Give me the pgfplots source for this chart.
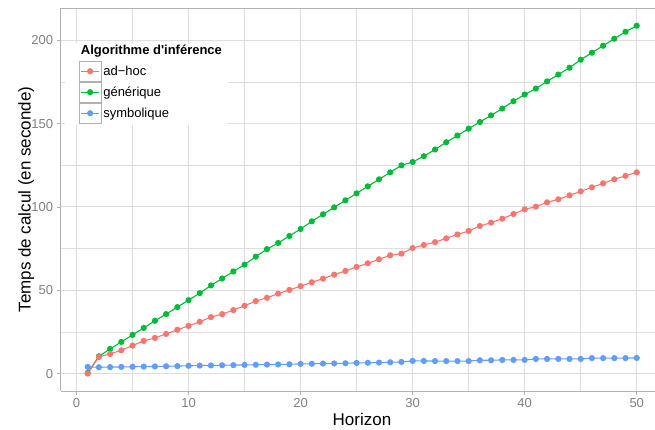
\documentclass[border=0pt]{standalone}
\usepackage{pgfplots}
\pgfplotsset{compat=1.18}
\usepackage{pgfplotstable}
\usepackage{fontspec}
\setmainfont{Liberation Sans}[Ligatures=TeXOff]
\definecolor{cred}{HTML}{F8766D}
\definecolor{cgreen}{HTML}{00BA38}
\definecolor{cblue}{HTML}{619CFF}
\definecolor{axisgray}{HTML}{B3B3B3}
\definecolor{gridgray}{HTML}{DEDEDE}
\definecolor{boxgray}{HTML}{B0B0B0}
\definecolor{ticklab}{HTML}{7F7F7F}

\pgfplotstableread{
x y
1 0
2 10.0
3 11.8
4 14.0
5 16.8
6 19.6
7 21.4
8 23.8
9 26.3
10 28.6
11 31.1
12 33.9
13 35.7
14 38.1
15 40.7
16 43.5
17 45.5
18 48.0
19 50.2
20 52.5
21 54.8
22 57.0
23 59.4
24 61.6
25 64.0
26 66.2
27 68.6
28 71.0
29 72.0
30 75.4
31 77.2
32 78.9
33 81.2
34 83.5
35 85.6
36 88.6
37 90.6
38 93.0
39 95.8
40 98.6
41 100.2
42 102.8
43 104.6
44 107.0
45 109.4
46 111.8
47 114.2
48 116.6
49 118.7
50 120.8
}\adhoc

\pgfplotstableread{
x y
1 0.4
2 10.4
3 14.8
4 19.0
5 23.2
6 27.4
7 31.7
8 35.7
9 39.9
10 44.1
11 48.3
12 52.9
13 57.1
14 61.3
15 65.4
16 70.2
17 74.7
18 78.4
19 82.6
20 86.8
21 91.4
22 95.6
23 99.8
24 104.0
25 108.2
26 112.4
27 116.6
28 120.8
29 125.0
30 127.0
31 130.5
32 134.5
33 138.9
34 142.9
35 147.0
36 151.0
37 155.0
38 159.1
39 163.5
40 167.5
41 171.1
42 175.4
43 179.5
44 183.6
45 188.4
46 192.6
47 196.8
48 201.0
49 205.2
50 208.8
}\generique

\pgfplotstableread{
x y
1 4.0
2 3.8
3 3.9
4 4.0
5 4.1
6 4.2
7 4.3
8 4.4
9 4.5
10 4.7
11 4.8
12 4.9
13 5.0
14 5.1
15 5.2
16 5.3
17 5.4
18 5.5
19 5.6
20 5.8
21 5.9
22 6.0
23 6.1
24 6.2
25 6.4
26 6.5
27 6.6
28 6.8
29 7.0
30 7.6
31 7.6
32 7.5
33 7.5
34 7.5
35 7.5
36 8.0
37 8.0
38 8.2
39 8.2
40 8.2
41 8.8
42 8.8
43 8.8
44 8.8
45 8.8
46 9.3
47 9.3
48 9.3
49 9.3
50 9.4
}\symbolique

\begin{document}
\begin{tikzpicture}
\begin{axis}[
  scale only axis, width=594.3pt, height=383pt,
  xmin=-1.41, xmax=51.63, ymin=-10.45, ymax=219.45,
  axis x line*=bottom, axis y line*=left,
  x axis line style={-}, y axis line style={-},
  axis line style={draw=axisgray, line width=0.9pt},
  xtick={0,10,...,50}, ytick={0,50,...,200},
  minor xtick={5,15,...,45}, minor ytick={25,75,...,175},
  grid=both,
  major grid style={draw=gridgray, line width=1.0pt},
  minor grid style={draw=gridgray, line width=0.55pt},
  tick align=outside, major tick length=4pt, minor tick length=0pt,
  tick style={draw=axisgray, line width=0.9pt},
  /pgf/number format/assume math mode=true,
  tick label style={font=\fontsize{13}{15}\selectfont, text=ticklab},
  xlabel={Horizon}, ylabel={Temps de calcul (en seconde)},
  label style={font=\fontsize{17}{20}\selectfont, text=black},
  x label style={at={(axis description cs:0.507,0)}, anchor=base, yshift=-35pt},
  y label style={at={(axis description cs:-0.0508,0.5)}, anchor=base, rotate=0},
  every axis plot/.append style={line width=1.1pt, mark=*, mark size=2.5pt, mark options={solid}},
  legend image code/.code={
    \draw[draw=boxgray, fill=white, line width=0.6pt, solid] (0pt,-10.2pt) rectangle (21.7pt,10.2pt);
    \draw[mark repeat=2, mark phase=2] plot coordinates {(2pt,0pt)(10.85pt,0pt)(19.7pt,0pt)};
  },
  legend style={at={(axis description cs:0.03079,0.86240)}, anchor=north west,
    draw=none, fill=none, inner sep=0pt, outer sep=0pt, row sep=0pt, column sep=2pt,
    font=\fontsize{13}{15}\selectfont, nodes={inner sep=0pt}},
  legend cell align=left,
]
\addlegendimage{cred, line width=1.1pt, mark=*, mark size=2.5pt}
\addlegendentry{ad−hoc}
\addlegendimage{cgreen, line width=1.1pt, mark=*, mark size=2.5pt}
\addlegendentry{générique}
\addlegendimage{cblue, line width=1.1pt, mark=*, mark size=2.5pt}
\addlegendentry{symbolique}

\addplot[cgreen, forget plot] table[x=x, y=y] {\generique};
\addplot[cred, forget plot] table[x=x, y=y] {\adhoc};
\addplot[cblue, forget plot] table[x=x, y=y] {\symbolique};

\draw[axisgray, line width=0.9pt] (rel axis cs:0,1) -- (rel axis cs:1,1);
\fill[white] (axis description cs:0.00724,0.90862) rectangle (axis description cs:0.28151,0.69452);
\node[anchor=base west, font=\bfseries\fontsize{13}{15}\selectfont, inner sep=0pt] at (axis description cs:0.03365,0.87728) {Algorithme d'inférence};
\end{axis}
\pgfresetboundingbox
\useasboundingbox (-60.7pt,-39pt) rectangle (594.3pt,391pt);
\end{tikzpicture}
\end{document}
